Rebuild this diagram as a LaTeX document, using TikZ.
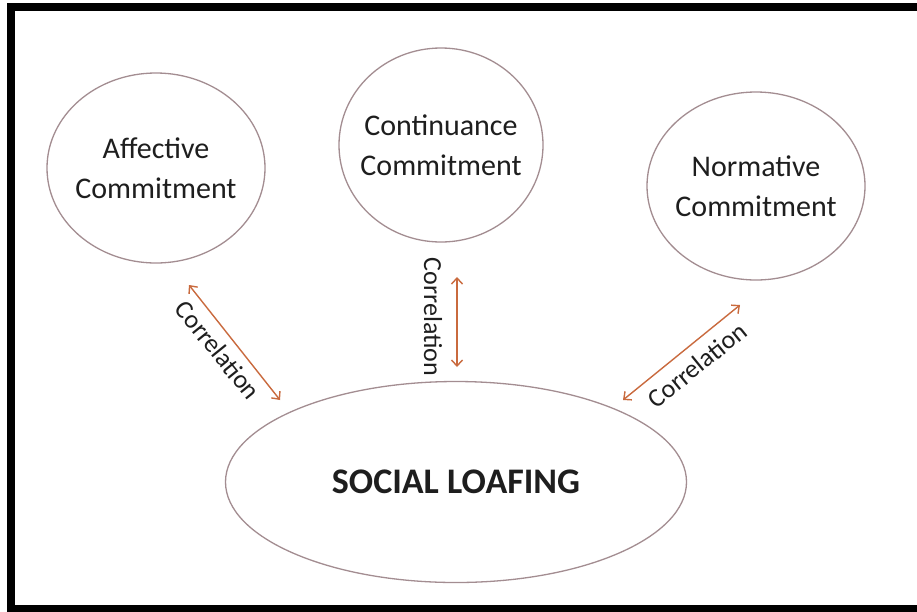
\documentclass[tikz,border=0pt]{standalone}
\usepackage{fontspec}
\setmainfont{Carlito}
\usetikzlibrary{shapes.geometric, arrows.meta, positioning}
\definecolor{edgeMauve}{HTML}{A38D91}
\definecolor{corrOrange}{HTML}{C96A3E}
\definecolor{textDark}{HTML}{1E1E1E}
\tikzset{
    % Bubbles
    commitBubble/.style={
        ellipse, draw=edgeMauve, line width=1.3pt, inner sep=-15pt,
        align=center, text=textDark, font=\fontsize{30}{40}\selectfont
    },
    loafBubble/.style={
        ellipse, draw=edgeMauve, line width=1.3pt, inner sep=0pt,
        text=textDark, font=\fontsize{36}{40}\selectfont\bfseries
    },
    % Links
    corrArrow/.style={{Straight Barb[length=6pt,width=11pt]}-{Straight Barb[length=6pt,width=11pt]}, draw=corrOrange, line width=1.4pt},
    corrLabel/.style={font=\fontsize{26}{30}\selectfont, text=textDark, inner sep=0pt},
    frameLine/.style={draw=black, line width=8pt}
}

\begin{document}
\begin{tikzpicture}[x=1pt, y=-1pt]
    \useasboundingbox (0,0) rectangle (917,611);
    \clip (0,0) rectangle (917,611);
    \fill[white] (0,0) rectangle (917,611);

    % Outer frame (right side runs off the page)
    \draw[frameLine] (11,6.5) rectangle (930,609);

    % Commitment types
    \node[commitBubble, minimum width=218pt, minimum height=190pt] (affective) at (156,168) {Affective\\Commitment};
    \node[commitBubble, minimum width=204pt, minimum height=194pt] (continuance) at (441,145) {Continuance\\Commitment};
    \node[commitBubble, minimum width=218pt, minimum height=188pt] (normative) at (756,186) {Normative\\Commitment};

    % Outcome
    \node[loafBubble, minimum width=461pt, minimum height=201pt] (loafing) at (456,482) {SOCIAL LOAFING};

    % Arrow ends
    \coordinate (affTop) at (189,285);
    \coordinate (affLow) at (280,400);
    \coordinate (contTop) at (457,277);
    \coordinate (contLow) at (457,367);
    \coordinate (normTop) at (740,305);
    \coordinate (normLow) at (623,400);

    \draw[corrArrow] (affTop) -- (affLow);
    \draw[corrArrow] (contTop) -- (contLow);
    \draw[corrArrow] (normTop) -- (normLow);

    \node[corrLabel, rotate=-51] (corrAff) at (218,350) {Correlation};
    \node[corrLabel, rotate=-90] (corrCont) at (433,317) {Correlation};
    \node[corrLabel, rotate=39] (corrNorm) at (697,365) {Correlation};
\end{tikzpicture}
\end{document}
